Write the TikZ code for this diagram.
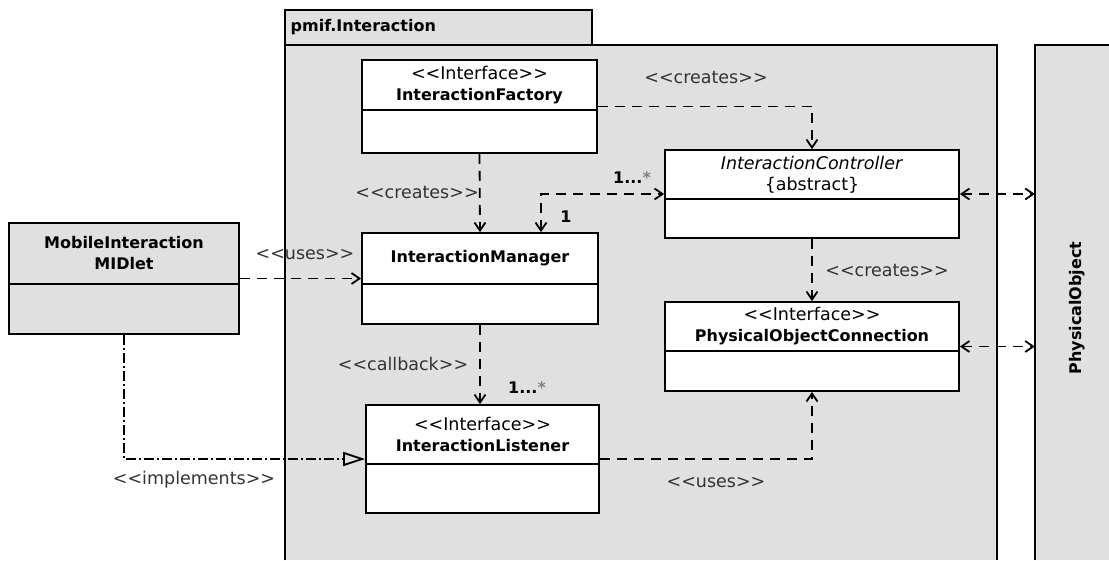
\documentclass[tikz,border=0pt]{standalone}
\usepackage{fontspec}
\setmainfont{DejaVu Sans}
\usetikzlibrary{arrows.meta, fit, calc}
\definecolor{pkggray}{HTML}{E0E0E0}
\definecolor{lblgray}{HTML}{333333}
\def\stereo#1{<{}<#1>{}>}
\def\cname#1{{\fontsize{16}{21}\selectfont\bfseries #1}}
\def\classbox[#1](#2)(#3,#4)(#5,#6)(#7)#8{
	\node[classnode, fill=#1, fit={(#3,#4) (#5,#6)}] (#2) {};
	\draw[line width=1.8pt] (#3,#7) -- (#5,#7);
	\node[align=center] (#2-name) at ($(#3,#4)!0.5!(#5,#7)$) {#8};
}

\begin{document}
\begin{tikzpicture}[x=1pt, y=-1pt, font=\fontsize{17.5}{21}\selectfont,
	classnode/.style={draw, line width=1.8pt, inner sep=0pt},
	dep/.style={line width=1.8pt, dash pattern=on 10pt off 7pt},
	realize/.style={line width=1.8pt, dash pattern=on 10pt off 3pt on 2pt off 3pt},
	lbl/.style={text=lblgray, inner sep=1pt},
	mult/.style={font=\fontsize{16}{21}\selectfont\bfseries, inner sep=1pt},
	>={Straight Barb[length=8pt, width=11pt]}]

	\useasboundingbox (0,0) rectangle (1109,560);

	% Draw the package and the physical object
	\node[fill=pkggray, inner sep=0pt, fit={(285,45) (997,560)}] (pkg) {};
	\draw[line width=1.8pt] (pkg.south west) -- (pkg.north west) -- (pkg.north east) -- (pkg.south east);
	\node[classnode, fill=pkggray, fit={(285,10) (592,45)}] (tab) {};
	\node[anchor=west] (tabname) at ($(tab.west)+(3,0)$) {\cname{pmif.Interaction}};
	\node[fill=pkggray, inner sep=0pt, fit={(1035,45) (1109,560)}] (phy) {};
	\draw[line width=1.8pt] (phy.south west) -- (phy.north west) -- (phy.north east);
	\node[rotate=90] (phyname) at (1077,308) {\cname{PhysicalObject}};

	% Draw the classes
	\classbox[pkggray](mid)(9,223)(239,334)(284){\cname{MobileInteraction}\\\cname{MIDlet}}
	\classbox[white](fac)(362,60)(597,153)(110){\stereo{Interface}\\\cname{InteractionFactory}}
	\classbox[white](mgr)(362,233)(598,324)(284){\cname{InteractionManager}}
	\classbox[white](lis)(366,405)(599,513)(464){\stereo{Interface}\\\cname{InteractionListener}}
	\classbox[white](ctl)(665,150)(959,238)(199){\textit{InteractionController}\\\{abstract\}}
	\classbox[white](poc)(665,302)(959,391)(351){\stereo{Interface}\\\cname{PhysicalObjectConnection}}

	% Dependencies
	\draw[dep, ->] (fac.south) -- (mgr.north);
	\draw[dep, ->] (fac.east) -| (ctl.north);
	\draw[dep, <->] ($(mgr.north)+(61,0)$) |- (ctl.west);
	\draw[dep, ->] (ctl.south) -- (poc.north);
	\draw[dep, ->] (mgr.south) -- (mgr.south |- lis.north);
	\draw[dep, ->] (mid.east) -- (mgr.west);
	\draw[dep, ->] (lis.east) -| (poc.south);
	\draw[dep, <->] (ctl.east) -- (ctl.east -| phy.west);
	\draw[dep, <->] (poc.east) -- (poc.east -| phy.west);

	% Realization
	\draw[realize, -{Triangle[open, length=22pt, width=14pt]}] (mid.south) |- (lis.west);

	% Labels
	\node[lbl] (crtop) at (706,77) {\stereo{creates}};
	\node[lbl] (crleft) at (417,192) {\stereo{creates}};
	\node[lbl] (crright) at (887,270) {\stereo{creates}};
	\node[lbl] (usesmid) at (305,255) {\stereo{uses}};
	\node[lbl] (usesbot) at (716,483) {\stereo{uses}};
	\node[lbl] (callback) at (403,364) {\stereo{callback}};
	\node[lbl] (implements) at (194,480) {\stereo{implements}};
	\node[mult] (multctl) at (632,178) {1...\textcolor{gray}{*}};
	\node[mult] (multone) at (566,217) {1};
	\node[mult] (multlis) at (527,388) {1...\textcolor{gray}{*}};

\end{tikzpicture}
\end{document}
